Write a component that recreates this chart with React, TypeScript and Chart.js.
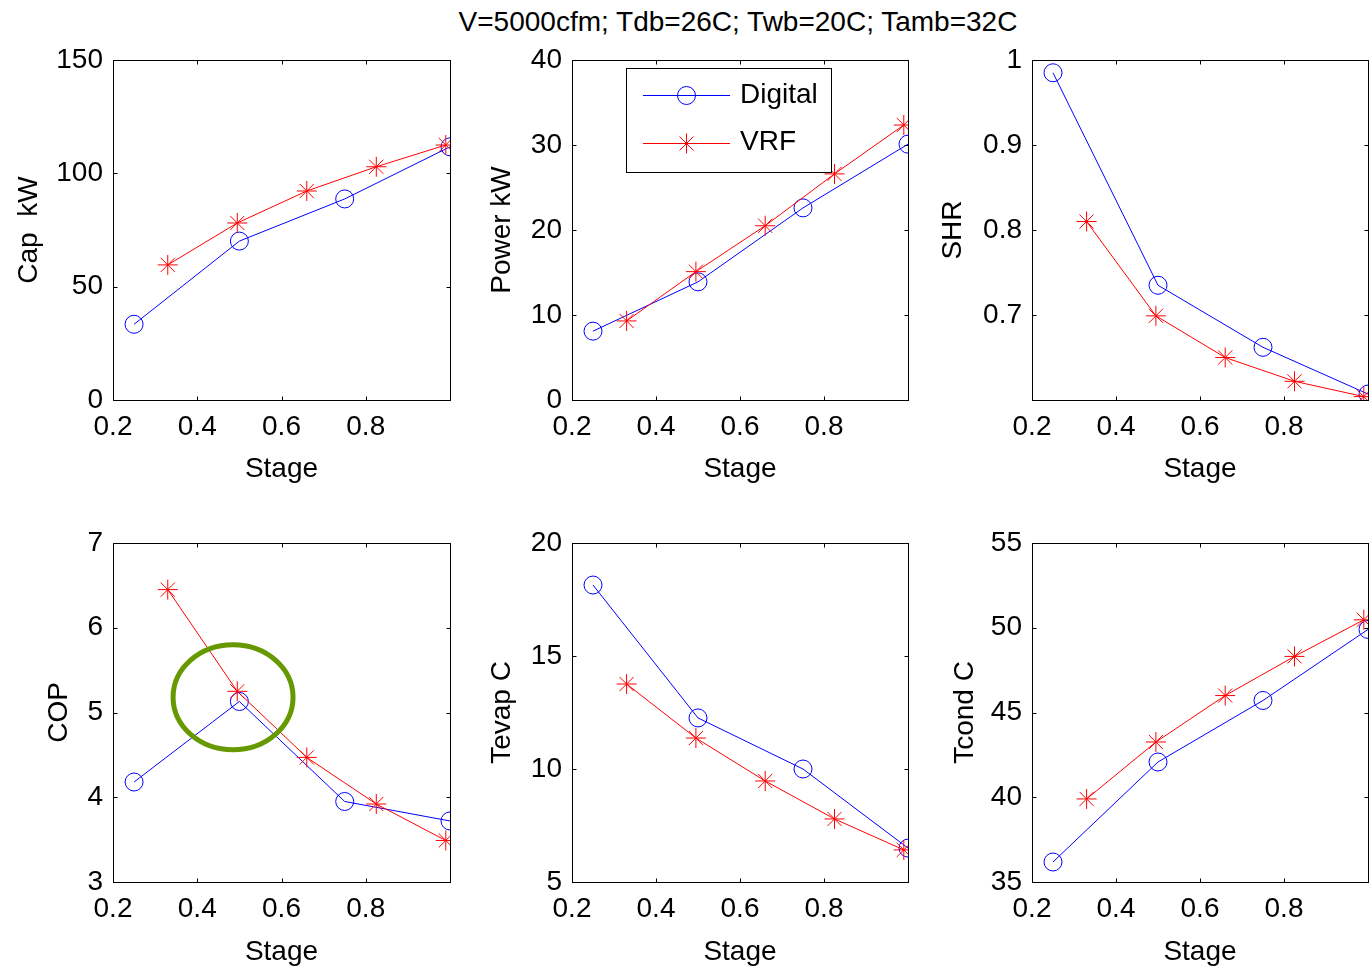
import React, { useEffect, useRef } from "react";
import { Chart, registerables } from "chart.js";

Chart.register(...registerables);

// ---------------- data ----------------
const figureTitle = "V=5000cfm; Tdb=26C; Twb=20C; Tamb=32C";
const seriesNames = ["Digital", "VRF"];
const xLabel = "Stage";

const stageDigital = [0.25, 0.5, 0.75, 1.0];
const stageVRF = [0.33, 0.495, 0.66, 0.825, 0.99];
const xTicks = [0.2, 0.4, 0.6, 0.8];

const capDigital = [33.4, 70.1, 88.7, 111.7];
const capVRF = [59.6, 78.1, 92.2, 102.9, 112.5];
const capTicks = [0, 50, 100, 150];

const powerDigital = [8.1, 13.9, 22.6, 30.1];
const powerVRF = [9.3, 15.1, 20.5, 26.6, 32.35];
const powerTicks = [0, 10, 20, 30, 40];

const shrDigital = [0.985, 0.735, 0.662, 0.607];
const shrVRF = [0.81, 0.699, 0.65, 0.622, 0.604];
const shrTicks = [0.7, 0.8, 0.9, 1];

const copDigital = [4.18, 5.13, 3.95, 3.72];
const copVRF = [6.45, 5.25, 4.47, 3.92, 3.49];
const copTicks = [3, 4, 5, 6, 7];

const tevapDigital = [18.14, 12.26, 10.0, 6.5];
const tevapVRF = [13.76, 11.37, 9.47, 7.79, 6.42];
const tevapTicks = [5, 10, 15, 20];

const tcondDigital = [36.18, 42.08, 45.71, 49.9];
const tcondVRF = [39.9, 43.26, 46.0, 48.31, 50.47];
const tcondTicks = [35, 40, 45, 50, 55];

// highlight ellipse on the COP panel (data units)
const copHighlightCenter = [0.485, 5.18];
const copHighlightRadius = [0.1424, 0.62];

// ---------------- panels ----------------
const panels = [
  { yLabel: "Cap  kW", digital: capDigital, vrf: capVRF, yMin: 0, yMax: 150, yTicks: capTicks },
  { yLabel: "Power kW", digital: powerDigital, vrf: powerVRF, yMin: 0, yMax: 40, yTicks: powerTicks, legend: true },
  { yLabel: "SHR", digital: shrDigital, vrf: shrVRF, yMin: 0.6, yMax: 1, yTicks: shrTicks },
  { yLabel: "COP", digital: copDigital, vrf: copVRF, yMin: 3, yMax: 7, yTicks: copTicks, ellipse: true },
  { yLabel: "Tevap C", digital: tevapDigital, vrf: tevapVRF, yMin: 5, yMax: 20, yTicks: tevapTicks },
  { yLabel: "Tcond C", digital: tcondDigital, vrf: tcondVRF, yMin: 35, yMax: 55, yTicks: tcondTicks },
];

// ---------------- layout ----------------
const FONT_FAMILY = "'Liberation Sans', Arial, Helvetica, sans-serif";
const FS = 28;
const colPlotLeft = [113, 572, 1032];
const colPlotRight = [450, 908, 1368];
const colCanvasLeft = [0, 459, 919];
const colCanvasRight = [466, 924, 1384];
const rowPlotTop = [60, 543];
const rowPlotBottom = [400, 882];
const rowCanvasTop = [30, 500];
const rowCanvasBottom = [490, 970];
const yTitlePad = [12, 26, 17, 42, 26, 29];
const xTitlePadBottom = [4, 1];

const BLUE = "#0000ff";
const RED = "#ff0000";
const GREEN = "#669900";

function drawStar(ctx: CanvasRenderingContext2D, x: number, y: number, r: number) {
  ctx.beginPath();
  ctx.moveTo(x - r, y);
  ctx.lineTo(x + r, y);
  ctx.moveTo(x, y - r);
  ctx.lineTo(x, y + r);
  const d = r * 0.7;
  ctx.moveTo(x - d, y - d);
  ctx.lineTo(x + d, y + d);
  ctx.moveTo(x - d, y + d);
  ctx.lineTo(x + d, y - d);
  ctx.stroke();
}

function Panel({ idx }: { idx: number }) {
  const ref = useRef<HTMLCanvasElement>(null);
  const p = panels[idx];
  const col = idx % 3;
  const row = Math.floor(idx / 3);
  const cl = colCanvasLeft[col];
  const ct = rowCanvasTop[row];
  const w = colCanvasRight[col] - cl;
  const h = rowCanvasBottom[row] - ct;

  useEffect(() => {
    const font = { family: FONT_FAMILY, size: FS };
    const yAxisWidth = colPlotLeft[col] - cl;
    const xAxisHeight = rowCanvasBottom[row] - rowPlotBottom[row];

    const boxPlugin = {
      id: "matlabBox" + idx,
      afterDraw(chart: any) {
        const { ctx, chartArea: a, scales } = chart;
        ctx.save();
        ctx.strokeStyle = "#000";
        ctx.lineWidth = 1;
        const L = Math.round(a.left) + 0.5;
        const R = Math.round(a.right) + 0.5;
        const T = Math.round(a.top) + 0.5;
        const B = Math.round(a.bottom) + 0.5;
        ctx.strokeRect(L, T, R - L, B - T);
        const tl = 4;
        ctx.beginPath();
        for (const v of xTicks) {
          const px = Math.round(scales.x.getPixelForValue(v)) + 0.5;
          if (px <= L + 1 || px >= R - 1) continue;
          ctx.moveTo(px, B);
          ctx.lineTo(px, B - tl);
          ctx.moveTo(px, T);
          ctx.lineTo(px, T + tl);
        }
        for (const v of p.yTicks) {
          const py = Math.round(scales.y.getPixelForValue(v)) + 0.5;
          if (py <= T + 1 || py >= B - 1) continue;
          ctx.moveTo(L, py);
          ctx.lineTo(L + tl, py);
          ctx.moveTo(R, py);
          ctx.lineTo(R - tl, py);
        }
        ctx.stroke();

        if (p.ellipse) {
          const cx = scales.x.getPixelForValue(copHighlightCenter[0]);
          const cy = scales.y.getPixelForValue(copHighlightCenter[1]);
          const rx = Math.abs(scales.x.getPixelForValue(copHighlightCenter[0] + copHighlightRadius[0]) - cx);
          const ry = Math.abs(scales.y.getPixelForValue(copHighlightCenter[1] + copHighlightRadius[1]) - cy);
          ctx.beginPath();
          ctx.ellipse(cx, cy, rx, ry, 0, 0, Math.PI * 2);
          ctx.strokeStyle = GREEN;
          ctx.lineWidth = 5;
          ctx.stroke();
        }

        if (p.legend) {
          const lx = Math.round(a.left) + 54.5;
          const ly = Math.round(a.top) + 8.5;
          ctx.fillStyle = "#fff";
          ctx.fillRect(lx, ly, 205, 104);
          ctx.strokeStyle = "#000";
          ctx.lineWidth = 1;
          ctx.strokeRect(lx, ly, 205, 104);
          const ds = chart.data.datasets;
          const rowsY = [a.top + 35, a.top + 82.5];
          ds.forEach((d: any, i: number) => {
            const yy = Math.round(rowsY[i]) + 0.5;
            ctx.strokeStyle = d.borderColor;
            ctx.lineWidth = 1;
            ctx.beginPath();
            ctx.moveTo(a.left + 71, yy);
            ctx.lineTo(a.left + 158, yy);
            ctx.stroke();
            const mx = a.left + 114.5;
            if (d.pointStyle === "circle") {
              ctx.beginPath();
              ctx.arc(mx, yy, d.pointRadius, 0, Math.PI * 2);
              ctx.stroke();
            } else {
              drawStar(ctx, mx, yy, d.pointRadius);
            }
            ctx.fillStyle = "#000";
            ctx.font = `${FS}px ${FONT_FAMILY}`;
            ctx.textBaseline = "middle";
            ctx.textAlign = "left";
            ctx.fillText(d.label, a.left + 168, rowsY[i]);
          });
        }
        ctx.restore();
      },
    };

    const chart = new Chart(ref.current as HTMLCanvasElement, {
      type: "line",
      data: {
        datasets: [
          {
            label: seriesNames[0],
            data: stageDigital.map((x, i) => ({ x, y: p.digital[i] })),
            borderColor: BLUE,
            backgroundColor: "rgba(0,0,0,0)",
            borderWidth: 1,
            pointStyle: "circle",
            pointRadius: 9,
            pointBorderWidth: 1,
            pointBorderColor: BLUE,
            pointBackgroundColor: "rgba(0,0,0,0)",
            tension: 0,
            order: 1,
          },
          {
            label: seriesNames[1],
            data: stageVRF.map((x, i) => ({ x, y: p.vrf[i] })),
            borderColor: RED,
            backgroundColor: "rgba(0,0,0,0)",
            borderWidth: 1,
            pointStyle: "star",
            pointRadius: 10,
            pointBorderWidth: 1,
            pointBorderColor: RED,
            pointBackgroundColor: "rgba(0,0,0,0)",
            tension: 0,
            order: 0,
          },
        ],
      },
      options: {
        animation: false,
        responsive: false,
        maintainAspectRatio: false,
        devicePixelRatio: 1,
        layout: {
          padding: {
            left: 0,
            top: rowPlotTop[row] - ct,
            right: colCanvasRight[col] - colPlotRight[col],
            bottom: 0,
          },
        },
        plugins: {
          legend: { display: false },
          tooltip: { enabled: false },
          title: { display: false },
        },
        scales: {
          x: {
            type: "linear",
            min: 0.2,
            max: 1.0,
            afterBuildTicks: (s: any) => {
              s.ticks = xTicks.map((v) => ({ value: v }));
            },
            afterFit: (s: any) => {
              s.height = xAxisHeight;
            },
            grid: { display: false, drawTicks: false },
            border: { display: false },
            ticks: {
              font,
              color: "#000",
              padding: 10,
              maxRotation: 0,
              autoSkip: false,
              callback: (v: any) => String(v),
            },
            title: {
              display: true,
              text: xLabel,
              font,
              color: "#000",
              padding: { top: 0, bottom: xTitlePadBottom[row] },
            },
          },
          y: {
            type: "linear",
            min: p.yMin,
            max: p.yMax,
            afterBuildTicks: (s: any) => {
              s.ticks = p.yTicks.map((v) => ({ value: v }));
            },
            afterFit: (s: any) => {
              s.width = yAxisWidth;
            },
            grid: { display: false, drawTicks: false },
            border: { display: false },
            ticks: {
              font,
              color: "#000",
              padding: 10,
              autoSkip: false,
              callback: (v: any) => String(v),
            },
            title: {
              display: true,
              text: p.yLabel,
              font,
              color: "#000",
              padding: { top: yTitlePad[idx], bottom: 0 },
            },
          },
        },
      } as any,
      plugins: [boxPlugin],
    });
    return () => chart.destroy();
  }, []);

  return (
    <canvas
      ref={ref}
      width={w}
      height={h}
      style={{ position: "absolute", left: cl, top: ct, width: w, height: h }}
    />
  );
}

export default function App() {
  return (
    <div
      style={{
        position: "absolute",
        left: 0,
        top: 0,
        width: 1370,
        height: 970,
        background: "#fff",
        overflow: "hidden",
      }}
    >
      <div
        style={{
          position: "absolute",
          left: 438,
          top: 8,
          width: 600,
          textAlign: "center",
          fontFamily: FONT_FAMILY,
          fontSize: FS,
          lineHeight: "28px",
          color: "#000",
          whiteSpace: "nowrap",
        }}
      >
        {figureTitle}
      </div>
      {panels.map((_, i) => (
        <Panel key={i} idx={i} />
      ))}
    </div>
  );
}
